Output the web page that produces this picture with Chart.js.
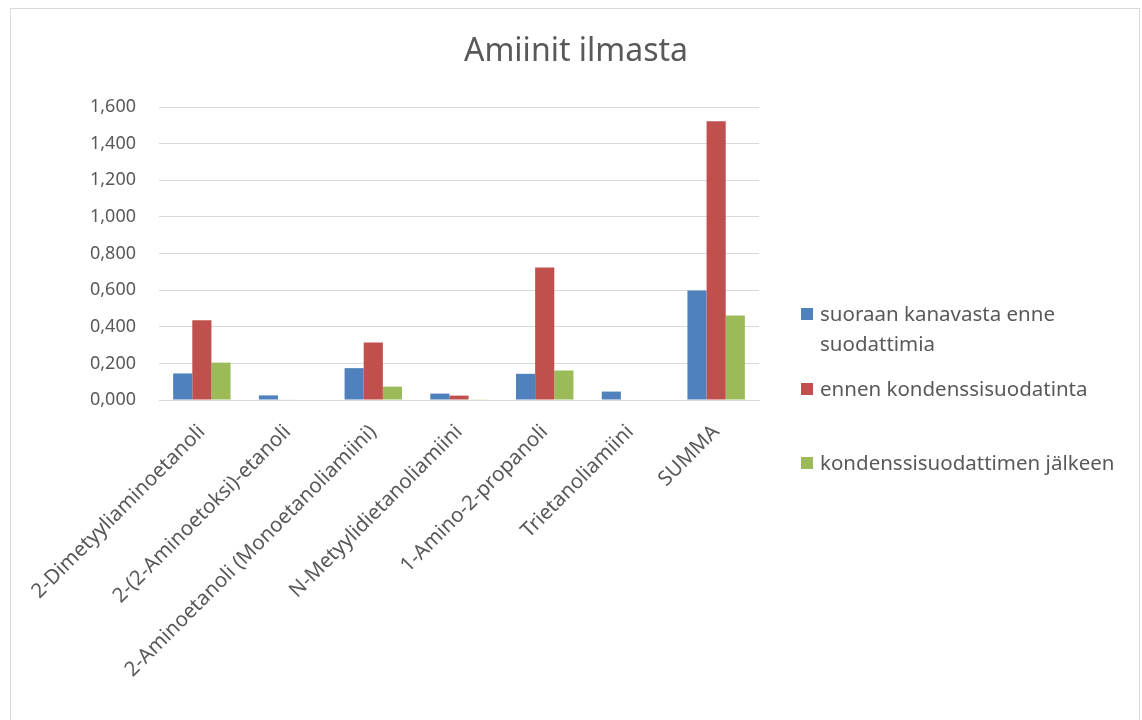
<!DOCTYPE html>
<html>
<head>
<meta charset="utf-8">
<script src="https://cdn.jsdelivr.net/npm/chart.js@4.4.1/dist/chart.umd.min.js"></script>
<style>
  body { margin: 0; background: #fff; }
  #frame { position: absolute; left: 10px; top: 8px; width: 1130px; height: 720px; border: 1px solid #d9d9d9; box-sizing: border-box; }
  #wrap { position: absolute; left: 0; top: 0; width: 1142px; height: 720px; }
</style>
</head>
<body>
<div id="frame"></div>
<div id="wrap"><canvas id="myChart" width="1142" height="720"></canvas></div>
<script>
var categories = ["2-Dimetyyliaminoetanoli", "2-(2-Aminoetoksi)-etanoli", "2-Aminoetanoli (Monoetanoliamiini)", "N-Metyylidietanoliamiini", "1-Amino-2-propanoli", "Trietanoliamiini", "SUMMA"];
var seriesNames = ["suoraan kanavasta enne suodattimia", "ennen kondenssisuodatinta", "kondenssisuodattimen jälkeen"];
var legendLines = [["suoraan kanavasta enne", "suodattimia"], ["ennen kondenssisuodatinta"], ["kondenssisuodattimen jälkeen"]];
var suoraan = [0.145, 0.025, 0.174, 0.035, 0.143, 0.046, 0.598];
var ennen = [0.435, 0.003, 0.314, 0.024, 0.723, 0, 1.522];
var jalkeen = [0.204, 0, 0.073, 0.002, 0.161, 0, 0.461];
var barColors = ["#4f81bd", "#c0504d", "#9bbb59"];
var yTicks = [0, 0.2, 0.4, 0.6, 0.8, 1.0, 1.2, 1.4, 1.6];
var chartTitle = "Amiinit ilmasta";

var FONT = "'Noto Sans', sans-serif";
var TEXT = "#595959";

// title and legend drawn by hand: title centred on the whole frame,
// first legend label wraps onto two lines
var decor = {
  id: "decor",
  afterDraw: function(chart) {
    var ctx = chart.ctx;
    ctx.save();
    ctx.fillStyle = TEXT;
    ctx.font = "32px " + FONT;
    ctx.textAlign = "center";
    ctx.textBaseline = "middle";
    ctx.fillText(chartTitle, 576, 52);

    var rows = [308, 383, 457];
    ctx.font = "20.5px " + FONT;
    ctx.textAlign = "left";
    for (var i = 0; i < legendLines.length; i++) {
      ctx.fillStyle = barColors[i];
      ctx.fillRect(801, rows[i], 12, 12);
      ctx.fillStyle = TEXT;
      for (var j = 0; j < legendLines[i].length; j++) {
        ctx.fillText(legendLines[i][j], 820, rows[i] + 7 + j * 30);
      }
    }
    ctx.restore();
  }
};

new Chart("myChart", {
  type: "bar",
  data: {
    labels: categories,
    datasets: [
      { label: seriesNames[0], data: suoraan, backgroundColor: barColors[0] },
      { label: seriesNames[1], data: ennen, backgroundColor: barColors[1] },
      { label: seriesNames[2], data: jalkeen, backgroundColor: barColors[2] }
    ]
  },
  options: {
    responsive: false,
    animation: false,
    layout: { padding: { left: 0, right: 383, top: 107, bottom: 0 } },
    datasets: { bar: { categoryPercentage: 0.67, barPercentage: 1.0 } },
    plugins: {
      legend: { display: false },
      tooltip: { enabled: false },
      title: { display: false }
    },
    scales: {
      x: {
        afterFit: function(axis) { axis.height = 320; },
        grid: { display: false },
        border: { color: "#d9d9d9" },
        ticks: {
          color: TEXT,
          padding: 12,
          font: { family: FONT, size: 20.5 },
          minRotation: 45,
          maxRotation: 45
        }
      },
      y: {
        min: 0,
        max: 1.6,
        afterFit: function(axis) { axis.width = 159; },
        afterBuildTicks: function(axis) {
          axis.ticks = yTicks.map(function(v) { return { value: v }; });
        },
        grid: { color: "#d9d9d9", drawTicks: false },
        border: { display: false },
        ticks: {
          color: TEXT,
          padding: 23,
          font: { family: FONT, size: 18 },
          callback: function(v) { return v.toFixed(3).replace(".", ","); }
        }
      }
    }
  },
  plugins: [decor]
});
</script>
</body>
</html>
